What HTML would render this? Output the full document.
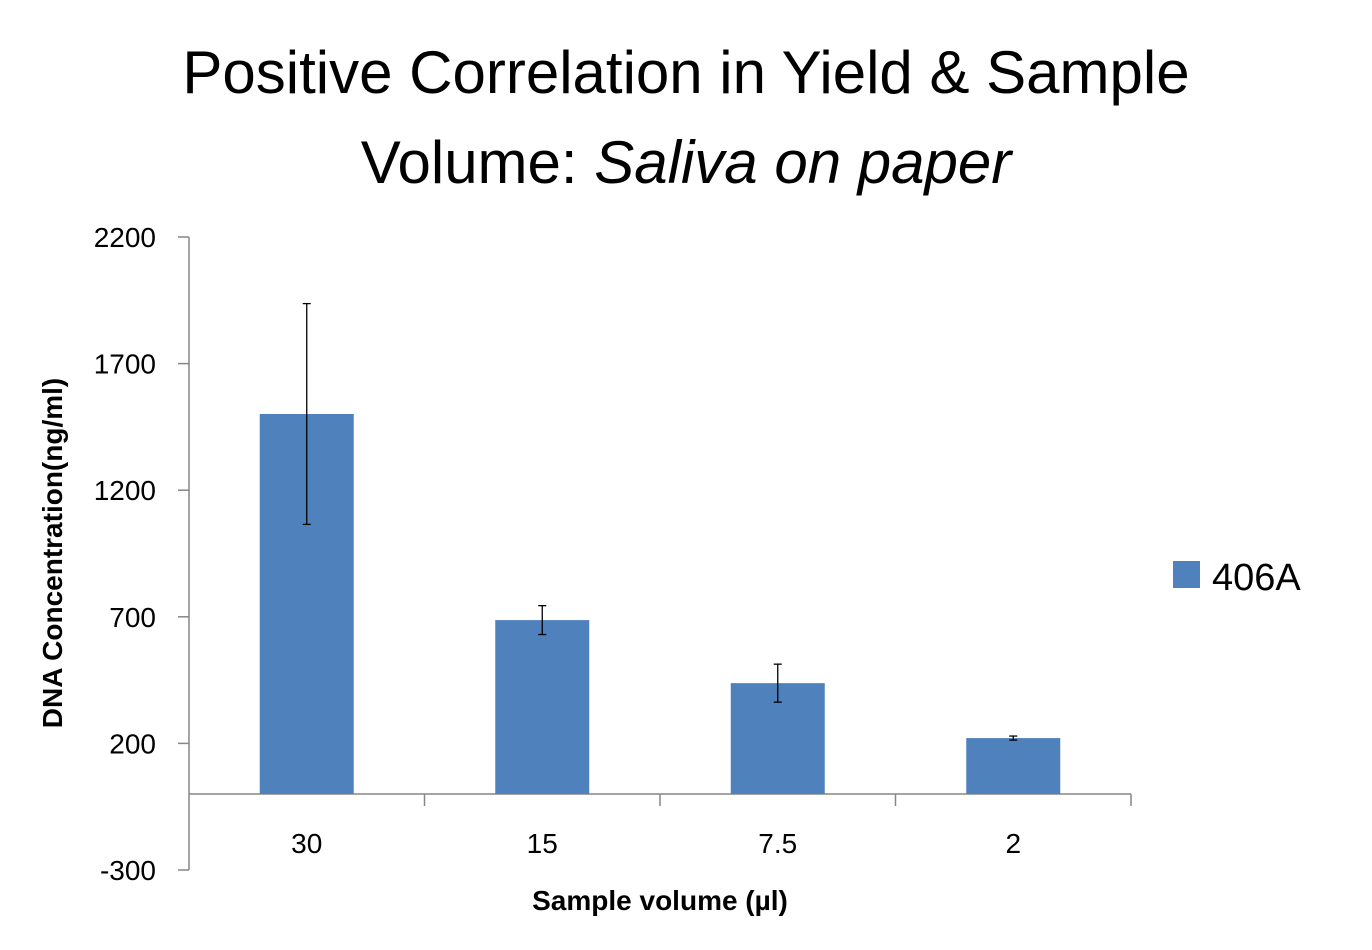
<!DOCTYPE html>
<html><head><meta charset="utf-8"><style>
body{margin:0;background:#fff;}
svg text{font-family:"Liberation Sans",sans-serif;}
</style></head><body>
<svg id="chart" width="1372" height="945" viewBox="0 0 1372 945" xmlns="http://www.w3.org/2000/svg">
<text x="686" y="93" text-anchor="middle" font-size="60" fill="#000">Positive Correlation in Yield &amp; Sample</text>
<text x="686" y="183" text-anchor="middle" font-size="60" fill="#000">Volume: <tspan font-style="italic">Saliva on paper</tspan></text>
<g id="axes"></g>
<g id="bars"></g>
<text transform="translate(62,553) rotate(-90)" text-anchor="middle" font-size="28" font-weight="bold">DNA Concentration(ng/ml)</text>
<text x="660" y="910" text-anchor="middle" font-size="28" font-weight="bold">Sample volume (µl)</text>
<g>
<rect x="1173" y="561" width="27" height="27" fill="#4f81bd"/>
<text x="1212" y="590" font-size="38">406A</text>
</g>
</svg>
<script>
const categories=["30","15","7.5","2"];
const values=[1501,687,438,221];
const errors=[436,57,75,8];
const yTicks=[2200,1700,1200,700,200,-300];
const yMin=-300,yMax=2200,plotTop=237,plotBottom=870,plotLeft=189,plotRight=1131;
const NS="http://www.w3.org/2000/svg";
function y(v){return plotBottom-(v-yMin)/(yMax-yMin)*(plotBottom-plotTop);}
const band=(plotRight-plotLeft)/categories.length;
function xc(i){return plotLeft+band*(i+0.5);}
function mk(t,a,p){const e=document.createElementNS(NS,t);for(const k in a)e.setAttribute(k,a[k]);p.appendChild(e);return e;}
const ax=document.getElementById('axes'),bg=document.getElementById('bars');
const yl=mk('line',{x1:plotLeft,y1:plotTop,x2:plotLeft,y2:plotBottom,stroke:'#868686','stroke-width':1.5},ax);


yTicks.forEach(t=>{
 const l=mk('line',{x1:plotLeft-11,x2:plotLeft,y1:y(t),y2:y(t),stroke:'#868686','stroke-width':1.5},ax);
 
 
 const tx=mk('text',{x:156,y:y(t)+10,'text-anchor':'end','font-size':28},ax);
 tx.textContent=t;
 
 
});
const xl=mk('line',{x1:plotLeft,y1:y(0),x2:plotRight,y2:y(0),stroke:'#868686','stroke-width':1.5},ax);


for(let i=1;i<=categories.length;i++){
 const l=mk('line',{x1:plotLeft+band*i,x2:plotLeft+band*i,y1:y(0),y2:y(0)+12,stroke:'#868686','stroke-width':1.5},ax);
 
 
}
const bw=94;
categories.forEach((c,i)=>{
 const r=mk('rect',{x:xc(i)-bw/2,y:y(values[i]),width:bw,height:y(0)-y(values[i]),fill:'#4f81bd'},bg);
 
 
 const hi=y(values[i]+errors[i]),lo=y(values[i]-errors[i]);
 const g=mk('g',{stroke:'#000','stroke-width':1.3},bg);
 
 
 mk('line',{x1:xc(i),x2:xc(i),y1:hi,y2:lo},g);
 mk('line',{x1:xc(i)-4,x2:xc(i)+4,y1:hi,y2:hi},g);
 mk('line',{x1:xc(i)-4,x2:xc(i)+4,y1:lo,y2:lo},g);
 const tx=mk('text',{x:xc(i),y:853,'text-anchor':'middle','font-size':28},ax);
 tx.textContent=c;
 
 
});
</script>
</body></html>
